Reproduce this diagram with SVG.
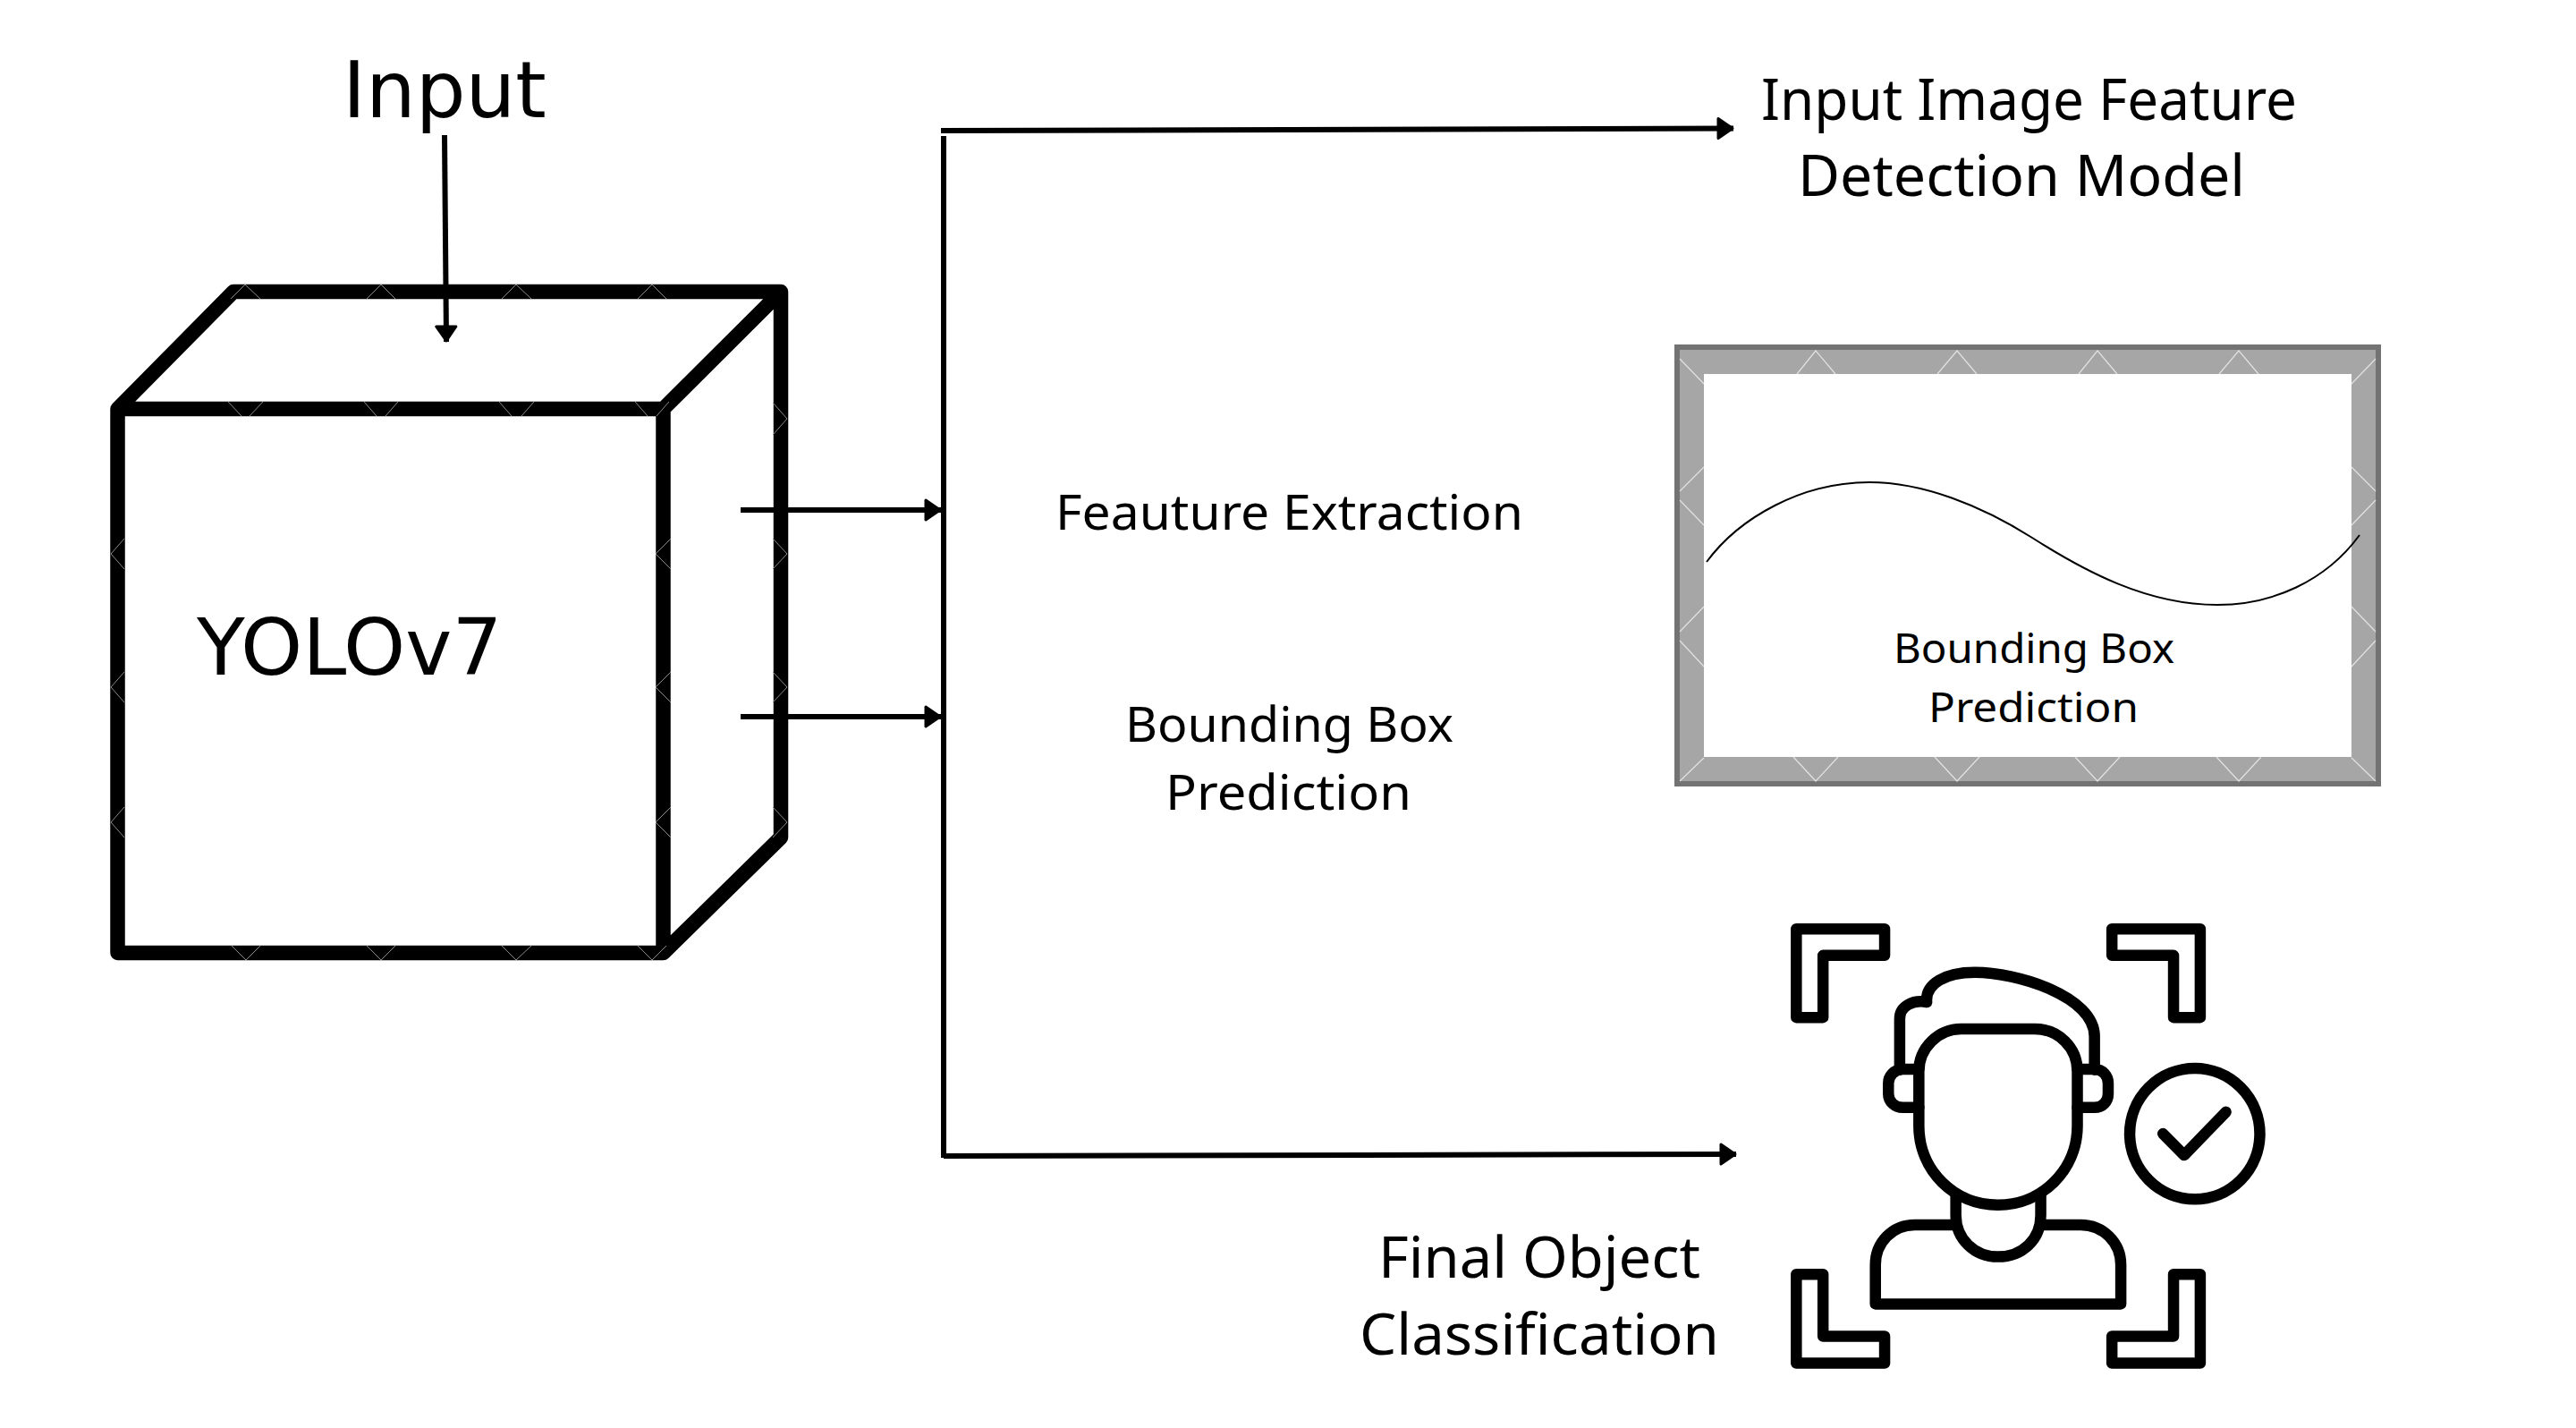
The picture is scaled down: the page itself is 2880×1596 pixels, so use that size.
<svg xmlns="http://www.w3.org/2000/svg" width="2880" height="1596" viewBox="0 0 2880 1596">
<defs>
<style>
text{font-family:"Noto Sans","Open Sans",sans-serif;fill:#000}
.big{font-family:"DejaVu Sans",sans-serif;font-size:88px}
.mid{font-size:63px}
.low{font-size:54px}
.small{font-size:46px}
.edge{fill:none;stroke:#000;stroke-width:6}
.cube{fill:none;stroke:#000;stroke-width:16.500;stroke-linejoin:round;stroke-linecap:round}
.icon{fill:none;stroke:#000;stroke-width:12.500;stroke-linejoin:round;stroke-linecap:round}
.icon *{vector-effect:non-scaling-stroke}
.tex{fill:none;stroke:#e2e2e2;stroke-width:1.200}
.texd{fill:none;stroke:#8a8a8a;stroke-width:1}
</style>
<marker id="arrow" markerUnits="userSpaceOnUse" markerWidth="22" markerHeight="28" refX="20" refY="14" orient="auto">
<path d="M3 3 L19 14 L3 25 Z" fill="#000" stroke="#000" stroke-width="3" stroke-linejoin="round"/>
</marker>
</defs>
<rect width="2880" height="1596" fill="#fff"/>
<g id="input-label"><text class="big" x="383" y="131">Input</text></g>
<g id="yolov7">
<path class="cube" d="M131.500 457H741.500V1065H131.500ZM131.500 457L261 326H873L741.500 457M873 326V936L741.500 1065"/>
<path class="texd" d="M258 334L274 318L291 334M410 334L426 318L442 334M561 334L577 318L594 334M713 334L729 318L745 334M255 449L270 465M294 449L279 465M407 449L421 465M445 449L431 465M558 449L572 465M597 449L583 465M710 449L724 465M748 449L734 465M259 1057L275 1073L291 1057M410 1057L426 1073L442 1057M561 1057L577 1073L594 1057M713 1057L729 1073L745 1057M139 602L124 619L139 636M139 751L124 768L139 785M139 902L124 919L139 936M750 602L733 619L750 636M750 751L733 768L750 785M750 902L733 919L750 936M864 450L880 468L864 486M864 602L880 619L864 636M864 751L880 768L864 785M864 902L880 919L864 936"/>
<text class="big" x="220" y="754">YOLOv7</text>
</g>
<g id="connectors">
<path class="edge" marker-end="url(#arrow)" d="M497 151L499 382"/>
<path class="edge" d="M1055 152V1294"/>
<path class="edge" marker-end="url(#arrow)" d="M1052 146L1938 143.500"/>
<path class="edge" marker-end="url(#arrow)" d="M1055 1292L1941 1290"/>
<path class="edge" marker-end="url(#arrow)" d="M828 570H1052"/>
<path class="edge" marker-end="url(#arrow)" d="M828 801H1052"/>
</g>
<g id="top-label"><text class="mid" x="1969" y="134" textLength="599" lengthAdjust="spacingAndGlyphs">Input Image Feature</text><text class="mid" x="2010" y="219" textLength="500" lengthAdjust="spacingAndGlyphs">Detection Model</text></g>
<g id="feature-label"><text class="low" x="1180" y="592" textLength="523" lengthAdjust="spacingAndGlyphs">Feauture Extraction</text></g>
<g id="bbox-label"><text class="low" x="1258" y="829" textLength="367" lengthAdjust="spacingAndGlyphs">Bounding Box</text><text class="low" x="1303" y="905" textLength="275" lengthAdjust="spacingAndGlyphs">Prediction</text></g>
<g id="bbox-frame">
<rect x="1875" y="388" width="784" height="488" fill="#a6a6a6" stroke="#737373" stroke-width="6"/>
<path class="tex" d="M2009 418L2030 392L2052 418M2166 418L2188 392L2210 418M2324 418L2345 392L2367 418M2481 418L2503 392L2525 418M2005 846L2030 873L2055 846M2163 846L2188 873L2213 846M2320 846L2345 873L2370 846M2478 846L2503 873L2528 846M1878 401L1905 429M1905 522L1878 549M1878 559L1905 587M1905 678L1878 706M1878 716L1905 745M1905 847L1878 873M2656 401L2629 429M2629 522L2656 549M2656 559L2629 587M2629 678L2656 706M2656 716L2629 745M2629 847L2656 873"/>
<rect x="1905" y="418" width="724" height="428" fill="#fff"/>
<path d="M1908 628C1945 578 2015 539 2090 539C2150 539 2215 565 2272 601C2330 638 2400 676 2479 676C2540 676 2600 650 2638 598" fill="none" stroke="#000" stroke-width="2"/>
<text class="small" x="2117" y="741" textLength="314" lengthAdjust="spacingAndGlyphs">Bounding Box</text>
<text class="small" x="2156" y="807" textLength="235" lengthAdjust="spacingAndGlyphs">Prediction</text>
</g>
<g id="final-label"><text class="mid" x="1541" y="1428" textLength="360" lengthAdjust="spacingAndGlyphs">Final Object</text><text class="mid" x="1520" y="1514" textLength="402" lengthAdjust="spacingAndGlyphs">Classification</text></g>
<g id="face-icon" class="icon" transform="translate(1980 1010) scale(0.3827 0.3571)">
<path d="M74 79H332V162H152V356H74Z"/>
<path d="M996 79H1254V356H1176V162H996Z"/>
<path d="M74 1160H152V1354H332V1438H74Z"/>
<path d="M1176 1160H1254V1438H996V1354H1176Z"/>
<path d="M376 520V360C376 320 415 300 455 308C450 250 510 215 595 215C720 215 945 290 945 415V520"/>
<path d="M432 525C432 450 490 392 555 392H770C840 392 895 450 895 525V695C895 835 790 943 663 943C535 943 432 835 432 695Z"/>
<path d="M432 518H385C360 518 343 540 343 562V595C343 620 362 638 385 638H432"/>
<path d="M895 518H945C970 518 985 540 985 562V595C985 620 968 638 945 638H895"/>
<path d="M540 910V975C540 1050 595 1105 663 1105C735 1105 788 1050 788 975V910"/>
<path d="M535 1005H420C355 1005 305 1060 305 1130V1253H1022V1130C1022 1060 970 1005 905 1005H795"/>
<ellipse cx="1238" cy="720" rx="190" ry="205"/>
<path d="M1145 720L1207 787L1329 652"/>
</g>
</svg>
